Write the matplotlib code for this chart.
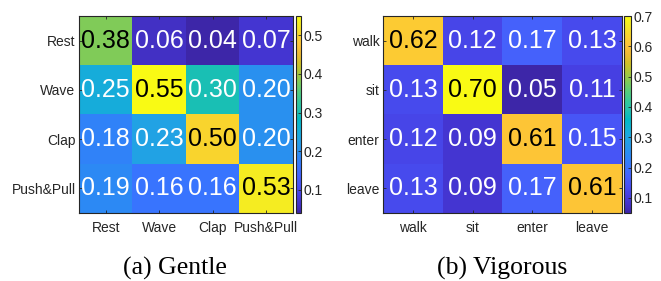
import numpy as np
import matplotlib
matplotlib.use("Agg")
import matplotlib.pyplot as plt
from matplotlib.colors import LinearSegmentedColormap

# ---- data ----
gentle_labels = ["Rest", "Wave", "Clap", "Push&Pull"]
gentle_values = [
    [0.38, 0.06, 0.04, 0.07],
    [0.25, 0.55, 0.30, 0.20],
    [0.18, 0.23, 0.50, 0.20],
    [0.19, 0.16, 0.16, 0.53],
]
vigorous_labels = ["walk", "sit", "enter", "leave"]
vigorous_values = [
    [0.62, 0.12, 0.17, 0.13],
    [0.13, 0.70, 0.05, 0.11],
    [0.12, 0.09, 0.61, 0.15],
    [0.13, 0.09, 0.17, 0.61],
]
gentle_ticks = [0.1, 0.2, 0.3, 0.4, 0.5]
vigorous_ticks = [0.1, 0.2, 0.3, 0.4, 0.5, 0.6, 0.7]
captions = ["(a) Gentle", "(b) Vigorous"]

# ---- MATLAB parula colormap (approx.) ----
parula_pts = [
    (0.2422, 0.1504, 0.6603), (0.2647, 0.1978, 0.7952), (0.2783, 0.2559, 0.8991),
    (0.2810, 0.3228, 0.9579), (0.2699, 0.3892, 0.9906), (0.2206, 0.4603, 0.9973),
    (0.1786, 0.5289, 0.9682), (0.1540, 0.5902, 0.9218), (0.1248, 0.6459, 0.8883),
    (0.0689, 0.6948, 0.8394), (0.0067, 0.7312, 0.7660), (0.1408, 0.7584, 0.6842),
    (0.2161, 0.7843, 0.5923), (0.3406, 0.8008, 0.4789), (0.5044, 0.7993, 0.3480),
    (0.6720, 0.7793, 0.2227), (0.8203, 0.7498, 0.1535), (0.9393, 0.7288, 0.2100),
    (0.9970, 0.7659, 0.2199), (0.9786, 0.8386, 0.1766), (0.9597, 0.9135, 0.1423),
    (0.9769, 0.9839, 0.0805),
]
parula = LinearSegmentedColormap.from_list("parula", parula_pts, N=256)

plt.rcParams["font.family"] = ["Liberation Sans", "DejaVu Sans"]

W, H = 661, 281
fig = plt.figure(figsize=(W / 100, H / 100), dpi=100)

def px_rect(x0, y0, x1, y1):
    return [x0 / W, 1 - y1 / H, (x1 - x0) / W, (y1 - y0) / H]

panels = [
    (gentle_values, gentle_labels, gentle_ticks, (79, 16, 293, 213), (296, 16, 301, 213), 175),
    (vigorous_values, vigorous_labels, vigorous_ticks, (383, 16, 622, 213), (624, 16, 631, 213), 502),
]

edge = "#262626"
for i, (vals, labels, cticks, rect, crect, capx) in enumerate(panels):
    data = np.array(vals)
    vmin, vmax = data.min(), data.max()
    ax = fig.add_axes(px_rect(*rect))
    im = ax.imshow(data, cmap=parula, vmin=vmin, vmax=vmax, aspect="auto")
    n = len(labels)
    ax.set_xticks(range(n))
    ax.set_yticks(range(n))
    ax.set_xticklabels(labels, fontsize=10, color="#262626")
    ax.set_yticklabels(labels, fontsize=10, color="#262626")
    ax.tick_params(direction="in", length=2.5, width=0.6, color=edge,
                   top=True, right=True, pad=2.5)
    ax.tick_params(axis="x", pad=6)
    for s in ax.spines.values():
        s.set_color(edge)
        s.set_linewidth(0.8)
    for r in range(n):
        for c in range(n):
            v = data[r, c]
            norm = (v - vmin) / (vmax - vmin)
            ax.text(c, r, f"{v:.2f}", ha="center", va="center", fontsize=18,
                    color="black" if norm > 0.6 else "white")
    cax = fig.add_axes(px_rect(*crect))
    cb = fig.colorbar(im, cax=cax)
    cb.set_ticks(cticks)
    cb.ax.tick_params(direction="in", length=2.5, width=0.6, color=edge,
                      labelsize=10, labelcolor="#262626", pad=2)
    cb.outline.set_edgecolor(edge)
    cb.outline.set_linewidth(0.8)
    fig.text(capx / W, 1 - 268 / H, captions[i], ha="center", va="center",
             fontsize=18.5, family=["Liberation Serif", "DejaVu Serif"])

fig.savefig("out.png", dpi=100)
